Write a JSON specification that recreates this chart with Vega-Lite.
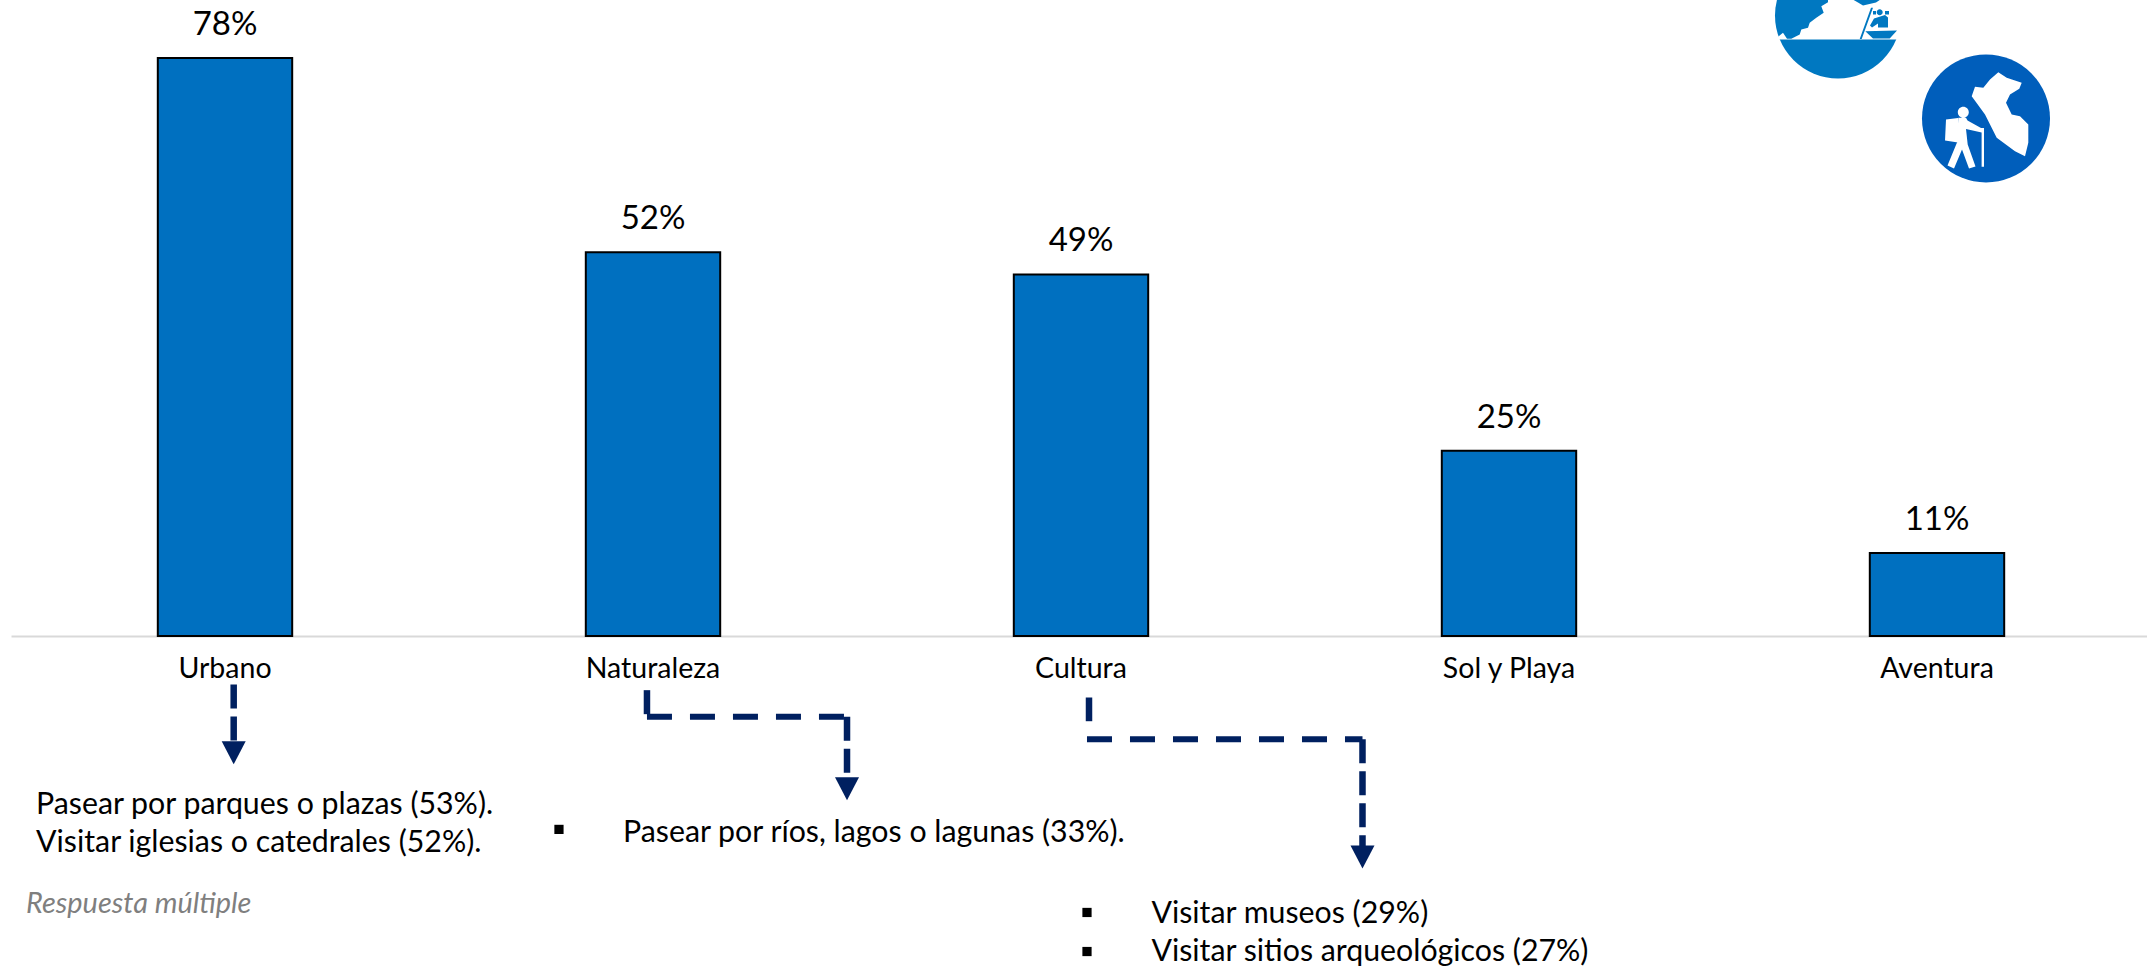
{
"$schema":"https://vega.github.io/schema/vega-lite/v6.json",
"width":2136,"height":636,
"autosize":{"type":"none"},
"padding":{"left":11,"top":0,"right":0,"bottom":335},
"background":"white",
"config":{"view":{"stroke":null},"font":"Lato"},
"datasets":{
"bars":[
{"destino":"Urbano","pct":78,"label":"78%"},
{"destino":"Naturaleza","pct":51.8,"label":"52%"},
{"destino":"Cultura","pct":48.8,"label":"49%"},
{"destino":"Sol y Playa","pct":25,"label":"25%"},
{"destino":"Aventura","pct":11.2,"label":"11%"}],
"notes":[
{"t":"Pasear por parques o plazas (53%).","u":0.0585,"v":-22.74},
{"t":"Visitar iglesias o catedrales (52%).","u":0.0585,"v":-27.87},
{"t":"Pasear por ríos, lagos o lagunas (33%).","u":1.4299,"v":-26.52},
{"t":"Visitar museos (29%)","u":2.6645,"v":-37.58},
{"t":"Visitar sitios arqueológicos (27%)","u":2.6645,"v":-42.71}],
"bullets":[{"u":1.2803,"v":-26.1},{"u":2.514,"v":-37.31},{"u":2.514,"v":-42.58}],
"vert":[
{"u":0.5203,"u2":0.5203,"v":-6.55,"v2":-14.4},
{"u":1.4859,"u2":1.4859,"v":-7.31,"v2":-11.3},
{"u":1.9533,"u2":1.9533,"v":-10.9,"v2":-19.2},
{"u":2.5187,"u2":2.5187,"v":-8.3,"v2":-11.5},
{"u":3.1577,"u2":3.1577,"v":-13.93,"v2":-28.4}],
"horiz":[
{"u":1.4859,"u2":1.9533,"v":-10.9,"v2":-10.9},
{"u":2.514,"u2":3.1577,"v":-13.93,"v2":-13.93}],
"heads":[{"u":0.5203,"v":-15.77},{"u":1.9533,"v":-20.63},{"u":3.1577,"v":-29.82}]
},
"layer":[
{"data":{"name":"bars"},
 "mark":{"type":"bar","fill":"#0070C0","stroke":"#000000","strokeWidth":2},
 "encoding":{
  "x":{"field":"destino","type":"nominal","sort":null,
   "scale":{"range":[0,2140],"paddingInner":0.686,"paddingOuter":0.343},
   "axis":{"title":null,"labelAngle":0,"ticks":false,"domainColor":"#D9D9D9","domainWidth":2,"labelColor":"#000000","labelFontSize":28.5,"labelFont":"Lato","labelPadding":32,"labelBaseline":"middle"}},
  "y":{"field":"pct","type":"quantitative","scale":{"domain":[0,85.83],"nice":false},"axis":null}}},
{"data":{"name":"bars"},
 "mark":{"type":"text","dy":-33,"fontSize":33,"font":"Lato","color":"#000000","baseline":"middle"},
 "encoding":{
  "x":{"field":"destino","type":"nominal","sort":null,
   "scale":{"range":[0,2140],"paddingInner":0.686,"paddingOuter":0.343},"axis":null},
  "y":{"field":"pct","type":"quantitative","axis":null},
  "text":{"field":"label"}}},
{"encoding":{
  "x":{"field":"u","type":"quantitative","scale":{"domain":[0,5],"range":[0,2140],"nice":false,"zero":false},"axis":null},
  "y":{"field":"v","type":"quantitative","axis":null}},
 "layer":[
 {"data":{"name":"notes"},
  "mark":{"type":"text","align":"left","baseline":"middle","fontSize":30.3,"font":"Lato","color":"#000000"},
  "encoding":{"text":{"field":"t"}}},
 {"data":{"values":[{"t":"Respuesta múltiple","u":0.035,"v":-36.23}]},
  "mark":{"type":"text","align":"left","baseline":"middle","fontSize":28.9,"font":"Lato","fontStyle":"italic","color":"#7F7F7F"},
  "encoding":{"text":{"field":"t"}}},
 {"data":{"name":"bullets"},
  "mark":{"type":"point","shape":"square","filled":true,"color":"#000000","size":85,"opacity":1}},
 {"data":{"name":"vert"},
  "mark":{"type":"rule","color":"#002060","strokeWidth":6.5,"strokeDash":[24,8]},
  "encoding":{"x2":{"field":"u2"},"y2":{"field":"v2"}}},
 {"data":{"name":"horiz"},
  "mark":{"type":"rule","color":"#002060","strokeWidth":6,"strokeDash":[25,18]},
  "encoding":{"x2":{"field":"u2"},"y2":{"field":"v2"}}},
 {"data":{"name":"heads"},
  "mark":{"type":"point","shape":"M-12,-11.5L12,-11.5L0,11.5Z","filled":true,"color":"#002060","size":4,"opacity":1}},
 {"data":{"values":[{"u":4.2687,"v":83.74}]},
  "mark":{"type":"point","shape":"circle","filled":true,"color":"#0078C1","size":15876,"opacity":1}},
 {"data":{"values":[{"u":4.2687,"v":83.74}]},
  "mark":{"type":"point","shape":"M-10,-17L-10,-13.3L-16.7,-9.3L-14.3,-2.7L-21.7,2.3L-28.3,7.3L-30,12.3L-36.7,14L-38.3,19L-46.7,23.3L-51,23.3L-55,17.3L-59.3,20.7L-62,24L70,24L70,-17Z","filled":true,"color":"#FFFFFF","size":4,"opacity":1}},
 {"data":{"values":[{"u":4.2687,"v":83.74}]},
  "mark":{"type":"point","shape":"M13,-17L44,-17L38,-13L25,-10L20,-13ZM33,-7.7L35,-7.7L23.7,23.5L21.7,23.5ZM27.3,15.7L59,15L51.7,23L35,23ZM38.7,-3.3A3,3 0 1,0 44.7,-3.3A3,3 0 1,0 38.7,-3.3ZM36,3L47,-0.5L50,2L50,12L40,12L40,8L34,12L32,10ZM35,-4.5L38,-4.5L38,-1L35,-1ZM47,-4.5L51,-4.5L51,-1L47,-1Z","filled":true,"color":"#0078C1","size":4,"opacity":1}},
 {"data":{"values":[{"u":4.6145,"v":69.84}]},
  "mark":{"type":"point","shape":"circle","filled":true,"color":"#005EBB","size":16384,"opacity":1}},
 {"data":{"values":[{"u":4.6145,"v":69.84}]},
  "mark":{"type":"point","shape":"M12.3,-46.3L20.7,-40.7L35.7,-35.7L33.3,-29.7L24,-24L20,-15.7L25.7,-4L34,-2.3L42.3,6L42.3,24.3L39,37.7L29,32.7L10.7,19.3L-1,-4L-14.3,-22.3L-11,-31.7L-2.7,-30.7L4,-39ZM-28.2,-6.3A5.5,5.5 0 1,0 -17.2,-6.3A5.5,5.5 0 1,0 -28.2,-6.3ZM-40,1L-28,-0.5L-28,24L-41,22ZM-27.7,-0.7L-20,-0.7L-18.5,2L-5,9.5L-2,9.5L-2,48.3L-4.4,48.3L-4.4,14L-20,10.5L-18.3,26L-10.5,48L-17,50L-24,31L-32,50L-38.5,47L-29,24Z","filled":true,"color":"#FFFFFF","size":4,"opacity":1}}
 ]
}
],
"resolve":{"scale":{"x":"independent"}}
}
